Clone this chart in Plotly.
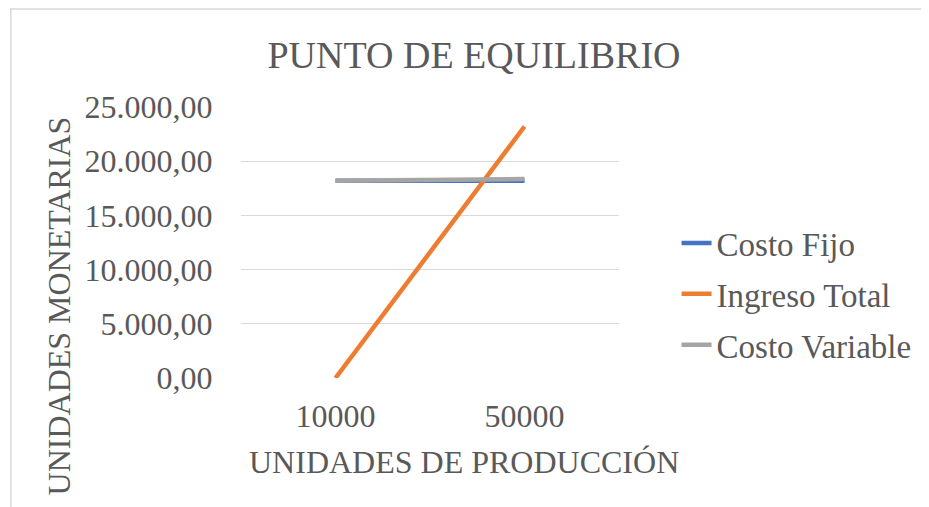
import plotly.graph_objects as go

categorias = ["10000", "50000"]
costo_fijo = [18200, 18200]
ingreso_total = [0, 23200]
costo_variable = [18200, 18350]

FONT = "Liberation Serif, Times New Roman, serif"
GRIS_TEXTO = "#595959"

# la pagina tiene 8px de margen en el body: la figura empieza en (8, 8)
OFF = 8
W, H = 929 - OFF, 507 - OFF
# area de trazado en pixeles de la referencia: x 241..622, y 107..378
L, R, T, B = 241 - OFF, 622 - OFF, 107 - OFF, 378 - OFF


def px_x(x):
    return (x - OFF - L) / (R - L)


def px_y(y):
    return (B - (y - OFF)) / (B - T)


fig = go.Figure()
series = [
    ("Costo Fijo", costo_fijo, "#4472C4"),
    ("Ingreso Total", ingreso_total, "#ED7D31"),
    ("Costo Variable", costo_variable, "#A5A5A5"),
]
for nombre, valores, color in series:
    fig.add_trace(
        go.Scatter(
            x=categorias,
            y=valores,
            mode="lines",
            name=nombre,
            legendgroup=nombre,
            line={"color": color, "width": 4.5},
        )
    )

fig.update_layout(
    width=W,
    height=H,
    margin={"l": L, "r": W - R, "t": T, "b": H - B},
    plot_bgcolor="white",
    paper_bgcolor="white",
    separators=",.",
    font={"family": FONT, "size": 32, "color": GRIS_TEXTO},
    title={
        "text": "PUNTO DE EQUILIBRIO",
        "x": (474 - OFF) / W,
        "xanchor": "center",
        "y": 1 - (55 - OFF) / H,
        "yanchor": "middle",
        "font": {"size": 38, "color": GRIS_TEXTO},
    },
    legend={
        "x": px_x(680),
        "xanchor": "left",
        "y": px_y(294),
        "yanchor": "middle",
        "traceorder": "grouped",
        "tracegroupgap": 5,
        "font": {"size": 33, "color": GRIS_TEXTO},
    },
    showlegend=True,
)

fig.update_xaxes(
    type="category",
    range=[-0.5, 1.5],
    showgrid=False,
    showline=False,
    zeroline=False,
    ticks="outside",
    ticklen=10,
    tickcolor="rgba(0,0,0,0)",
    tickfont={"size": 32, "color": GRIS_TEXTO},
)
fig.update_yaxes(
    range=[0, 25000],
    dtick=5000,
    tickformat=",.2f",
    showgrid=True,
    gridcolor="#D9D9D9",
    gridwidth=1,
    zeroline=False,
    showline=False,
    ticks="outside",
    ticklen=21,
    tickcolor="rgba(0,0,0,0)",
    tickfont={"size": 32, "color": GRIS_TEXTO},
)

fig.add_annotation(
    text="UNIDADES MONETARIAS",
    xref="paper",
    yref="paper",
    x=px_x(58),
    y=px_y(306),
    xanchor="center",
    yanchor="middle",
    textangle=-90,
    showarrow=False,
    font={"size": 32, "color": GRIS_TEXTO},
)
fig.add_annotation(
    text="UNIDADES DE PRODUCCIÓN",
    xref="paper",
    yref="paper",
    x=px_x(466),
    y=px_y(462),
    xanchor="center",
    yanchor="middle",
    showarrow=False,
    font={"size": 32, "color": GRIS_TEXTO},
)

# borde del area del grafico (arriba e izquierda)
fig.add_shape(
    type="path",
    xref="paper",
    yref="paper",
    path=f"M {px_x(9)},{px_y(520)} L {px_x(9)},{px_y(9)} L {px_x(940)},{px_y(9)}",
    line={"color": "#D9D9D9", "width": 1.5},
)

fig.write_html("out.html")
